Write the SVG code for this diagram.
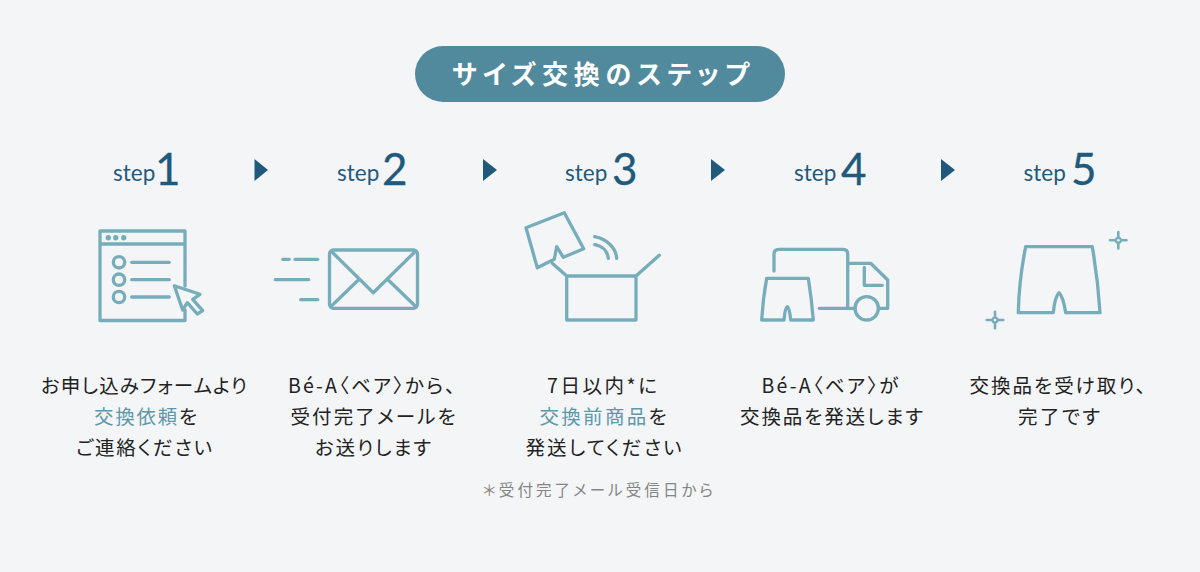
<svg xmlns="http://www.w3.org/2000/svg" width="1200" height="572" viewBox="0 0 1200 572">
<style>
.ic{fill:none;stroke:#77adbb;stroke-width:3.300;stroke-linejoin:round;stroke-linecap:round}
.sp{fill:none;stroke:#77adbb;stroke-width:2.600;stroke-linecap:round}
.dot{fill:#77adbb}
.st{font-family:Lato,"Noto Sans",sans-serif;font-size:22.500px;fill:#1f5a7c}
.n{font-family:Lato,"Noto Sans",sans-serif;font-size:44px;fill:#1f5a7c;stroke:#1f5a7c;stroke-width:.3px}
.b{font-family:"Noto Sans CJK JP",sans-serif;font-size:19.500px;fill:#222;font-weight:400;font-feature-settings:"palt"}
.h{fill:#5f98a9}
.f{font-family:"Noto Sans CJK JP",sans-serif;font-size:15.500px;fill:#858585;font-feature-settings:"palt"}
.t{font-family:"Noto Sans CJK JP",sans-serif;font-size:26px;fill:#fff;font-weight:700;font-feature-settings:"palt"}
.arr{fill:#1f5a7c}
</style>
<rect width="1200" height="572" fill="#f3f5f7"/>
<g id="title"><rect x="415" y="46" width="370" height="56" rx="28" fill="#528a9d"/><text class="t" x="452" y="84" textLength="297">サイズ交換のステップ</text></g>
<g id="connectors">
<polygon class="arr" points="254.500,159 268,170 254.500,181"/>
<polygon class="arr" points="483,159 497,170 483,181"/>
<polygon class="arr" points="711,159 725,170 711,181"/>
<polygon class="arr" points="941,159 955,170 941,181"/>
</g>
<g id="step1">
<text class="st" x="113" y="180.500">step</text><text class="n" x="155" y="185">1</text>
<path class="ic" d="M185,286V231H100V320.500H185V310M100,244H185M131.700,262.300H169.300M131.700,279.700H169.300M131.700,297H169.300"/>
<circle class="dot" cx="108.300" cy="237.700" r="2.700"/><circle class="dot" cx="115.700" cy="237.700" r="2.700"/><circle class="dot" cx="123.700" cy="237.700" r="2.700"/>
<circle class="ic" cx="119" cy="262.300" r="5.700"/><circle class="ic" cx="119" cy="279.700" r="5.700"/><circle class="ic" cx="119" cy="297" r="5.700"/>
<path class="ic" d="M174.300,285.700L200,294.300L192.700,299.300L202.700,310.700L197.300,314L187.300,302.700L182.700,310Z"/>
<text class="b" x="41" y="393" textLength="206">お申し込みフォームより</text>
<text class="b" x="94" y="424" textLength="103"><tspan class="h">交換依頼</tspan>を</text>
<text class="b" x="76" y="455" textLength="136">ご連絡ください</text>
</g>
<g id="step2">
<text class="st" x="337" y="180.500">step</text><text class="n" x="382" y="185">2</text>
<rect class="ic" x="329.500" y="250" width="88" height="58.300" rx="4"/>
<path class="ic" d="M331.700,251.700L373.300,292.700L415,251.700M330.700,306.700L358.300,280M388.300,280L416,306.700M282.700,259.300H289.300M295,259.300H317.700M275.300,279.700H308.700M300.700,299.700H317.700"/>
<text class="b" x="288" y="393" textLength="167">Bé-A〈ベア〉から、</text>
<text class="b" x="290.500" y="424" textLength="165">受付完了メールを</text>
<text class="b" x="315" y="455" textLength="116">お送りします</text>
</g>
<g id="step3">
<text class="st" x="565" y="180.500">step</text><text class="n" x="612" y="185">3</text>
<path class="ic" d="M566.700,276H636V320H566.700ZM566.700,276L552.300,263.300M636,276L659.300,255.300"/>
<path class="ic" d="M526,227.700L564.300,212.700L583.700,248.700L563.300,257.300L556.700,246.700L554.300,259.300L537.300,267.700Z"/>
<path class="ic" d="M594.700,236.700C607,239 616,248 616.700,258.300M594.700,244.700C602,246 607.500,251 608.300,258.300"/>
<text class="b" x="547" y="393" textLength="110">7日以内*に</text>
<text class="b" x="539.500" y="424" textLength="127"><tspan class="h">交換前商品</tspan>を</text>
<text class="b" x="525.500" y="455" textLength="156">発送してください</text>
<text class="f" x="483" y="496" textLength="230">＊受付完了メール受信日から</text>
</g>
<g id="step4">
<text class="st" x="794" y="180.500">step</text><text class="n" x="841" y="185">4</text>
<path class="ic" d="M774,271V254Q774,249.300 779,249.300H843Q847.700,249.300 847.700,254V308.300M819.300,308.300H855M847.700,263.300H870.700L887.700,280V308.300H878.300M864.300,267.300V285.300H882.300"/>
<circle class="ic" cx="866.700" cy="308.300" r="11.700"/>
<path class="ic" d="M766.700,278.300H808.300Q811.500,298 813.300,320H790.700Q789.500,308 787.300,306.700Q785,308 784,320H761.700Q763,298 766.700,278.300Z"/>
<text class="b" x="761.500" y="393" textLength="137">Bé-A〈ベア〉が</text>
<text class="b" x="740" y="424" textLength="183">交換品を発送します</text>
</g>
<g id="step5">
<text class="st" x="1023.500" y="180.500">step</text><text class="n" x="1071" y="185">5</text>
<path class="ic" d="M1025.700,246.700H1092.300Q1098,280 1100,312.700H1065.700Q1063,296 1059,292.700Q1055,296 1053.300,312.700H1018.300Q1019,280 1025.700,246.700Z"/>
<path class="sp" d="M1118.300,232V248.500M1110,240.300H1126.500M995,311.700V328.300M986.700,320H1003.300"/>
<circle class="dot" cx="1118.300" cy="240.300" r="3.600"/><circle class="dot" cx="995" cy="320" r="3.600"/>
<circle cx="1118.300" cy="240.300" r="1.300" fill="#f3f5f7"/><circle cx="995" cy="320" r="1.300" fill="#f3f5f7"/>
<text class="b" x="969.500" y="393" textLength="176">交換品を受け取り、</text>
<text class="b" x="1018" y="424" textLength="82">完了です</text>
</g>
</svg>
